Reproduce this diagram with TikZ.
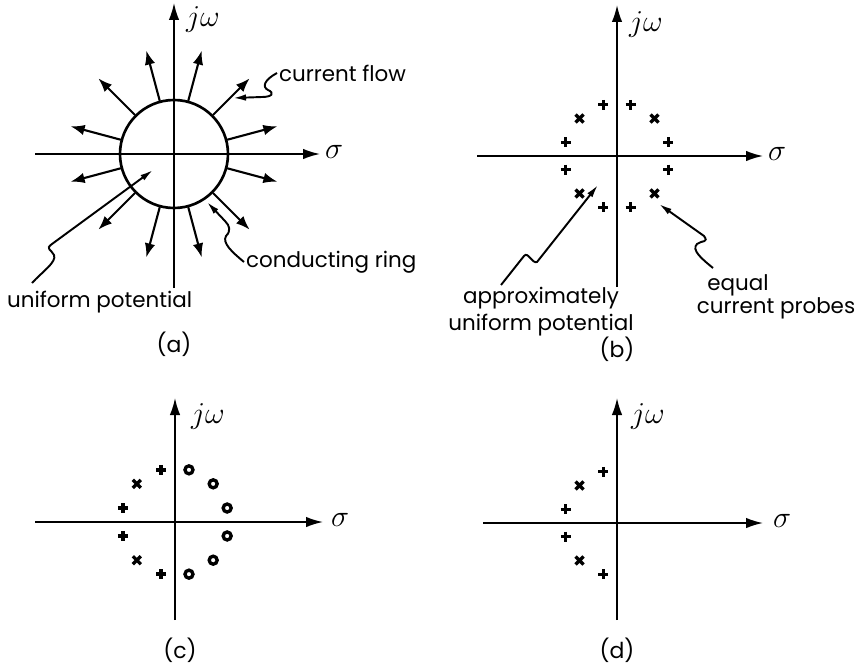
\documentclass[tikz,border=0pt]{standalone}
\usepackage{fontspec}
\setmainfont{Poppins}
\usetikzlibrary{arrows.meta,positioning,calc}
\tikzset{
    axis/.style={line width=1pt, -{Latex[length=3.4mm,width=2.1mm]}},
    ring/.style={line width=1.5pt},
    flow/.style={line width=1.2pt, -{Latex[length=2.8mm,width=2.1mm]}},
    pointer/.style={line width=1.1pt, -{Latex[length=2.6mm,width=1.3mm]}},
    note/.style={font=\fontsize{12.2}{15.5}\selectfont, inner sep=1pt, align=center},
    axlabel/.style={font=\LARGE, inner sep=1pt},
    caption/.style={font=\fontsize{12.5}{15}\selectfont, inner sep=1pt},
    markline/.style={line width=1.9pt},
    plusmark/.pic={\draw[markline] (-5,0) -- (5,0) (0,-5) -- (0,5);},
    crossmark/.pic={\draw[markline] (-4,-4) -- (4,4) (-4,4) -- (4,-4);},
    zeromark/.pic={\draw[markline] (0,0) circle (4);},
}

\begin{document}
\begin{tikzpicture}[x=0.02cm, y=-0.02cm]
    \useasboundingbox (0,0) rectangle (865,666);

    % centres of the four s-planes
    \coordinate (oa) at (174,154);
    \coordinate (ob) at (617,156);
    \coordinate (oc) at (175,522);
    \coordinate (od) at (617,523);

    % axes ends
    \coordinate (a-b) at (174,288); \coordinate (a-t) at (174,3);
    \coordinate (a-l) at (35,154);  \coordinate (a-r) at (320,154);
    \coordinate (b-b) at (617,287); \coordinate (b-t) at (617,5);
    \coordinate (b-l) at (477,156); \coordinate (b-r) at (763,156);
    \coordinate (c-b) at (175,620); \coordinate (c-t) at (175,398);
    \coordinate (c-l) at (35,522);  \coordinate (c-r) at (323,522);
    \coordinate (d-b) at (617,620); \coordinate (d-t) at (617,398);
    \coordinate (d-l) at (483,523); \coordinate (d-r) at (763,523);

    \foreach \p in {a,b,c,d} {
        \draw[axis] (\p-b) -- (\p-t);
        \draw[axis] (\p-l) -- (\p-r);
    }

    \node[axlabel] (a-jw) at (203,20) {$j\omega$};
    \node[axlabel] (a-s) at (334,152) {$\sigma$};
    \node[axlabel] (b-jw) at (646,24) {$j\omega$};
    \node[axlabel] (b-s) at (777,154) {$\sigma$};
    \node[axlabel] (c-jw) at (208,416) {$j\omega$};
    \node[axlabel] (c-s) at (340,520) {$\sigma$};
    \node[axlabel] (d-jw) at (648,416) {$j\omega$};
    \node[axlabel] (d-s) at (782,521) {$\sigma$};

    % (a) ring with current flowing out
    \draw[ring] (oa) circle (54);
    \foreach \a in {15,45,...,345}
        \draw[flow] ($(oa)+(\a:55)$) -- ($(oa)+(\a:107)$);

    \node[note, anchor=west] (cur) at (277,73) {current flow};
    \node[note, anchor=west] (ringlbl) at (244,262) {conducting ring};
    \node[note, anchor=west] (unif) at (5,302) {uniform potential};
    \coordinate (cur-pin) at (233,98);
    \coordinate (ring-pin) at (207,202);
    \coordinate (unif-pin) at (153,170);

    \draw[pointer] (cur.west) .. controls (264,80) and (262,87) .. (268,90)
        .. controls (275,93) and (272,97) .. (262,97) -- (cur-pin);
    \draw[pointer] (ringlbl.west) .. controls (232,252) and (222,243) .. (226,236)
        .. controls (231,231) and (230,226) .. (225,221) -- (ring-pin);
    \draw[pointer] (32,283) .. controls (42,272) and (57,262) .. (54,255)
        .. controls (51,249) and (45,249) .. (52,244) -- (unif-pin);

    % (b) ring of probes
    \foreach \a in {15,75,105,165,195,255,285,345}
        \pic at ($(ob)+(\a:53)$) {plusmark};
    \foreach \a in {45,135,225,315}
        \pic at ($(ob)+(\a:53)$) {crossmark};

    \node[note] (approx) at (541,312) {approximately\\uniform potential};
    \node[note] (eq) at (738,285) {equal};
    \node[note] (probes) at (776,308) {current probes};
    \coordinate (approx-pin) at (598,185);
    \coordinate (eq-pin) at (659,204);

    \draw[pointer] (501,285) -- (524,256) .. controls (528,251) and (532,264) .. (537,262)
        -- (approx-pin);
    \draw[pointer] (713,268) .. controls (702,259) and (691,250) .. (697,244)
        .. controls (702,240) and (709,243) .. (704,236) -- (eq-pin);

    % (c) poles and zeros
    \foreach \a in {105,165,195,255}
        \pic at ($(oc)+(\a:54)$) {plusmark};
    \foreach \a in {135,225}
        \pic at ($(oc)+(\a:54)$) {crossmark};
    \foreach \a in {15,45,75,285,315,345}
        \pic at ($(oc)+(\a:54)$) {zeromark};

    % (d) poles only
    \foreach \a in {105,165,195,255}
        \pic at ($(od)+(\a:53)$) {plusmark};
    \foreach \a in {135,225}
        \pic at ($(od)+(\a:53)$) {crossmark};

    \node[caption] (a-cap) at (174,344) {(a)};
    \node[caption] (b-cap) at (617,349) {(b)};
    \node[caption] (c-cap) at (180,650) {(c)};
    \node[caption] (d-cap) at (617,650) {(d)};
\end{tikzpicture}
\end{document}
